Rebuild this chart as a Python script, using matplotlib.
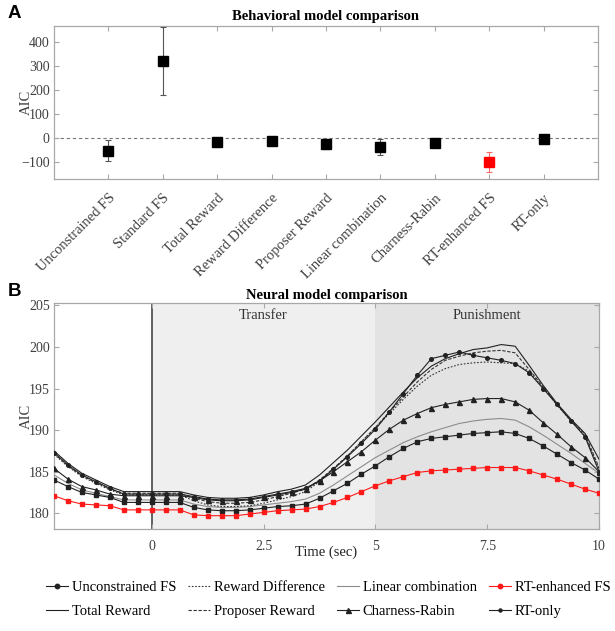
import numpy as np
import matplotlib
matplotlib.use("Agg")
import matplotlib.pyplot as plt
from matplotlib.lines import Line2D

plt.rcParams['font.family'] = ['Liberation Serif', 'DejaVu Serif']

# ---------------- Data: panel A ----------------
models_a = ["Unconstrained FS", "Standard FS", "Total Reward", "Reward Difference",
            "Proposer Reward", "Linear combination", "Charness-Rabin",
            "RT-enhanced FS", "RT-only"]
aic_a = [-53, 320, -17, -12, -25, -37, -19, -100, -3]
err_a = [44, 140, 8, 8, 20, 34, 8, 42, 5]
colors_a = ["black"] * 7 + ["#ff0000", "black"]

# ---------------- Data: panel B ----------------
time_idx = np.arange(-7, 33)
time_b = time_idx * 0.3125

unconstrained_fs = [184.0, 183.2, 182.5, 182.2, 181.9, 181.3, 181.3, 181.3, 181.3, 181.3,
                    180.7, 180.4, 180.3, 180.3, 180.4, 180.6, 180.8, 180.9, 181.1, 181.8,
                    182.7, 183.6, 184.7, 185.7, 186.8, 187.8, 188.6, 189.0, 189.2, 189.4,
                    189.6, 189.7, 189.8, 189.6, 189.0, 188.1, 187.1, 186.1, 185.2, 184.1]
total_reward = [187.5, 186.0, 184.8, 184.0, 183.2, 182.6, 182.6, 182.6, 182.6, 182.6,
                182.2, 181.9, 181.8, 181.8, 181.9, 182.2, 182.6, 182.9, 183.4, 184.6,
                186.1, 187.6, 189.3, 191.0, 192.8, 194.6, 196.3, 197.7, 198.6, 199.2,
                199.7, 199.9, 200.3, 200.1, 197.8, 195.4, 193.2, 191.3, 189.6, 186.5]
reward_difference = [187.1, 185.6, 184.4, 183.6, 182.8, 182.2, 182.2, 182.2, 182.2, 182.2,
                     181.5, 181.0, 180.8, 180.8, 180.9, 181.2, 181.6, 182.0, 182.6, 183.8,
                     185.3, 186.9, 188.6, 190.3, 192.0, 193.7, 195.3, 196.6, 197.4, 197.9,
                     198.1, 198.2, 198.1, 198.0, 197.1, 195.1, 193.0, 191.1, 189.3, 185.3]
proposer_reward = [187.2, 185.7, 184.5, 183.7, 182.9, 182.4, 182.4, 182.4, 182.4, 182.4,
                   181.8, 181.4, 181.2, 181.2, 181.3, 181.6, 182.0, 182.4, 182.9, 184.0,
                   185.4, 186.9, 188.6, 190.3, 192.2, 194.0, 195.8, 197.3, 198.4, 198.9,
                   199.3, 199.5, 199.6, 199.3, 197.3, 195.2, 193.1, 191.2, 189.5, 185.5]
linear_combination = [184.6, 183.6, 182.8, 182.4, 182.0, 181.6, 181.6, 181.6, 181.6, 181.6,
                      181.1, 180.8, 180.7, 180.7, 180.8, 181.0, 181.2, 181.4, 181.7, 182.4,
                      183.4, 184.5, 185.6, 186.7, 187.6, 188.5, 189.2, 189.8, 190.3, 190.8,
                      191.1, 191.3, 191.4, 191.2, 190.4, 189.4, 188.3, 187.2, 186.0, 184.8]
charness_rabin = [185.4, 184.1, 183.2, 182.8, 182.3, 182.1, 182.1, 182.1, 182.1, 182.1,
                  181.9, 181.6, 181.5, 181.5, 181.6, 181.9, 182.2, 182.5, 182.9, 183.9,
                  185.0, 186.2, 187.4, 188.8, 190.1, 191.2, 192.0, 192.7, 193.1, 193.4,
                  193.7, 193.8, 193.8, 193.4, 192.4, 190.9, 189.5, 188.0, 186.7, 185.0]
rt_enhanced_fs = [182.1, 181.5, 181.1, 181.0, 180.9, 180.4, 180.4, 180.4, 180.4, 180.4,
                  179.8, 179.7, 179.7, 179.7, 179.9, 180.1, 180.3, 180.4, 180.5, 180.8,
                  181.3, 181.9, 182.6, 183.3, 183.9, 184.4, 184.9, 185.1, 185.2, 185.3,
                  185.4, 185.5, 185.5, 185.5, 185.1, 184.6, 184.1, 183.5, 182.9, 182.4]
rt_only = [187.3, 185.8, 184.6, 183.8, 183.0, 182.3, 182.3, 182.3, 182.3, 182.3,
           182.0, 181.7, 181.6, 181.6, 181.7, 182.0, 182.3, 182.6, 183.0, 183.9,
           185.3, 186.8, 188.4, 190.1, 192.2, 194.4, 196.6, 198.6, 199.0, 199.4,
           199.0, 198.7, 198.4, 198.0, 196.9, 195.0, 193.1, 191.1, 189.2, 185.0]

phase_labels = ["Transfer", "Punishment"]
phase_bounds = [(0, 5), (5, 10)]
xticks_b = [0, 2.5, 5, 7.5, 10]
xticklabels_b = ["0", "2.5", "5", "7.5", "10"]
yticks_b = [180, 185, 190, 195, 200, 205]

# ---------------- Figure ----------------
W, H = 615, 631
fig = plt.figure(figsize=(W / 100, H / 100), dpi=100)

def box(l, t, r, b):
    return [l / W, 1 - b / H, (r - l) / W, (b - t) / H]

frame_col = "#a8a8a8"
tick_col = "#404040"

axA = fig.add_axes(box(54, 26, 598, 179))
axB = fig.add_axes(box(54, 303, 599, 529))

for ax in (axA, axB):
    for s in ax.spines.values():
        s.set_color(frame_col)
        s.set_linewidth(0.9)
    ax.tick_params(direction="in", length=3.5, width=0.8, color=frame_col,
                   labelcolor=tick_col, labelsize=10, top=True, right=True)

# ---- Panel A ----
xa = np.arange(1, len(models_a) + 1)
axA.axhline(0, color="#777777", lw=0.8, ls=(0, (3, 2.5)), zorder=1)
for x, y, e, c in zip(xa, aic_a, err_a, colors_a):
    ecol = "#555555" if c == "black" else "#ff6666"
    axA.errorbar(x, y, yerr=e, fmt="s", color=c, ecolor=ecol, elinewidth=0.8,
                 capsize=2.5, capthick=0.8, markersize=6.8, zorder=3)
axA.set_xlim(0, 10)
axA.set_ylim(-170, 465)
axA.set_yticks([-100, 0, 100, 200, 300, 400])
axA.set_xticks(xa)
axA.set_xticklabels(models_a, rotation=45, ha="right", va="top",
                    rotation_mode="anchor", fontsize=10.5)
axA.tick_params(axis="x", pad=9)
axA.tick_params(axis="y", pad=3)
axA.set_title("Behavioral model comparison", fontsize=10.5, fontweight="bold", pad=4)
axA.set_ylabel("AIC", fontsize=10.5, color=tick_col, va="center")
axA.yaxis.set_label_coords(-0.05, 0.5)

# ---- Panel B ----
shade_cols = ["#efefef", "#e3e3e3"]
for (a, b), lab, sc in zip(phase_bounds, phase_labels, shade_cols):
    axB.axvspan(a, b, color=sc, zorder=0, lw=0)
    axB.text((a + b) / 2, 203.8, lab, ha="center", va="center", fontsize=10.5,
             color="#333333", zorder=2)
axB.axvline(0, color="#555555", lw=1.3, zorder=1)

lw = 0.8
axB.plot(time_b, linear_combination, color="#8c8c8c", lw=lw, zorder=3)
axB.plot(time_b, reward_difference, color="#333333", lw=lw, ls=(0, (1.5, 1.5)), zorder=3)
axB.plot(time_b, proposer_reward, color="#333333", lw=lw, ls=(0, (3, 1.5)), zorder=3)
axB.plot(time_b, total_reward, color="#222222", lw=lw, zorder=3)
axB.plot(time_b, rt_only, color="#222222", lw=lw, marker="o", markersize=2.6, zorder=4)
axB.plot(time_b, charness_rabin, color="#222222", lw=lw, marker="^", markersize=3.6, zorder=4)
axB.plot(time_b, unconstrained_fs, color="#222222", lw=lw, marker="s", markersize=3.2, zorder=4)
axB.plot(time_b, rt_enhanced_fs, color="#ff1a1a", lw=lw, marker="s", markersize=3.2, zorder=5)

axB.set_xlim(-2.1875, 10)
axB.set_ylim(178.1, 205.3)
axB.set_xticks(xticks_b)
axB.set_xticklabels(xticklabels_b)
axB.set_yticks(yticks_b)
axB.tick_params(axis="x", pad=8)
axB.tick_params(axis="y", pad=3)
axB.set_title("Neural model comparison", fontsize=10.5, fontweight="bold", pad=3)
axB.set_ylabel("AIC", fontsize=10.5, color=tick_col, va="center")
axB.yaxis.set_label_coords(-0.05, 0.5)
axB.set_xlabel("Time (sec)", fontsize=10.5, color="#222222", va="center")
axB.xaxis.set_label_coords(0.5, -0.105)

# Panel letters
fig.text(8 / W, 1 - 14 / H, "A", fontsize=13.5, fontweight="bold",
         family="Liberation Sans", va="center", ha="left")
fig.text(8 / W, 1 - 291 / H, "B", fontsize=13.5, fontweight="bold",
         family="Liberation Sans", va="center", ha="left")

# Legend
handles = [
    Line2D([], [], color="#222222", lw=lw, marker="o", markersize=3.2),
    Line2D([], [], color="#222222", lw=lw),
    Line2D([], [], color="#333333", lw=lw, ls=(0, (1.5, 1.5))),
    Line2D([], [], color="#333333", lw=lw, ls=(0, (3, 1.5))),
    Line2D([], [], color="#8c8c8c", lw=lw),
    Line2D([], [], color="#222222", lw=lw, marker="^", markersize=3.6),
    Line2D([], [], color="#ff1a1a", lw=lw, marker="o", markersize=3.2),
    Line2D([], [], color="#222222", lw=lw, marker="o", markersize=2.2),
]
labels = ["Unconstrained FS", "Total Reward", "Reward Difference", "Proposer Reward",
          "Linear combination", "Charness-Rabin", "RT-enhanced FS", "RT-only"]
fig.legend(handles, labels, ncol=4, loc="upper left",
           bbox_to_anchor=(46 / W, 1 - 581 / H), frameon=False, fontsize=10.5,
           handlelength=1.5, handletextpad=0.25, columnspacing=0.85,
           labelspacing=0.75, borderpad=0, borderaxespad=0)

fig.savefig("out.png", dpi=100)
